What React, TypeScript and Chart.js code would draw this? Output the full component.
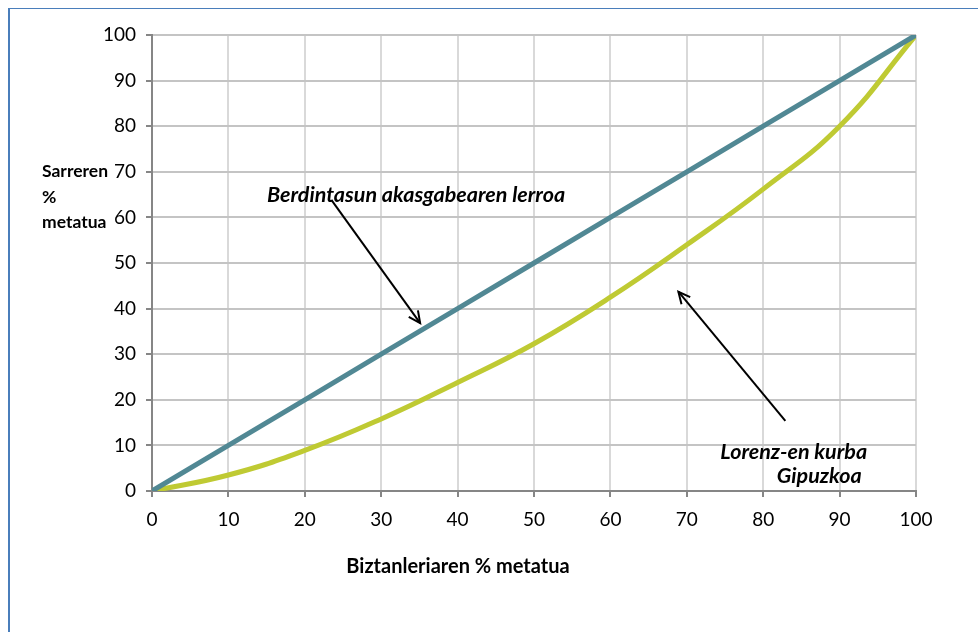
import React, { useEffect, useRef } from "react";
import { Chart, registerables } from "chart.js";

Chart.register(...registerables);

const populationShare = [0, 10, 20, 30, 40, 50, 60, 70, 80, 90, 100];
const equalityLine = [0, 10, 20, 30, 40, 50, 60, 70, 80, 90, 100];
const lorenzGipuzkoa = [0, 3.5, 8.9, 15.8, 23.8, 32.3, 42.5, 54, 66.2, 80, 100];

const yAxisTitle = ["Sarreren", "%", "metatua"];
const xAxisTitle = "Biztanleriaren % metatua";
const equalityLabel = "Berdintasun akasgabearen lerroa";
const lorenzLabel = ["Lorenz-en kurba", "Gipuzkoa"];

const FONT = "Lato, 'Open Sans', sans-serif";

function drawArrow(ctx: CanvasRenderingContext2D, x1: number, y1: number, x2: number, y2: number) {
  ctx.beginPath();
  ctx.moveTo(x1, y1);
  ctx.lineTo(x2, y2);
  ctx.stroke();
  const ang = Math.atan2(y2 - y1, x2 - x1);
  const len = 13;
  const spread = 0.45;
  ctx.beginPath();
  ctx.moveTo(x2 - len * Math.cos(ang - spread), y2 - len * Math.sin(ang - spread));
  ctx.lineTo(x2, y2);
  ctx.lineTo(x2 - len * Math.cos(ang + spread), y2 - len * Math.sin(ang + spread));
  ctx.stroke();
}

const annotationPlugin = {
  id: "lorenzAnnotations",
  afterDraw(chart: any) {
    const { ctx, chartArea, scales } = chart;
    const xs = scales.x;
    const ys = scales.y;
    const px = (v: number) => xs.getPixelForValue(v);
    const py = (v: number) => ys.getPixelForValue(v);
    ctx.save();
    ctx.fillStyle = "#000";
    ctx.strokeStyle = "#000";
    ctx.lineWidth = 2;
    ctx.lineCap = "butt";

    // arrows
    drawArrow(ctx, px(23.5), py(63.8), px(35.1), py(36.8));
    drawArrow(ctx, px(82.9), py(15.4), px(68.9), py(43.7));

    // annotation texts
    ctx.font = `italic bold 21.5px ${FONT}`;
    ctx.textBaseline = "middle";
    ctx.textAlign = "left";
    ctx.fillText(equalityLabel, px(15.05), py(64.9));
    ctx.textAlign = "right";
    ctx.fillText(lorenzLabel[0], px(93.6), py(8.55));
    ctx.fillText(lorenzLabel[1], px(92.9), py(3.3));

    // y axis title
    ctx.font = `bold 17.5px ${FONT}`;
    ctx.textAlign = "left";
    const yPos = [70.2, 64.5, 59];
    yAxisTitle.forEach((t, i) => ctx.fillText(t, chartArea.left - 110, py(yPos[i])));

    // x axis title
    ctx.font = `bold 20px ${FONT}`;
    ctx.textAlign = "center";
    ctx.fillText(xAxisTitle, chartArea.left + 306, chartArea.bottom + 76);
    ctx.restore();
  },
};

export default function App() {
  const ref = useRef<HTMLCanvasElement | null>(null);
  useEffect(() => {
    if (!ref.current) return;
    const chart = new Chart(ref.current, {
      type: "line",
      data: {
        datasets: [
          {
            label: "Berdintasun",
            data: populationShare.map((x, i) => ({ x, y: equalityLine[i] })),
            borderColor: "#518894",
            borderWidth: 5,
            pointRadius: 0,
            tension: 0,
            order: 0,
            borderCapStyle: "round",
          },
          {
            label: "Lorenz",
            data: populationShare.map((x, i) => ({ x, y: lorenzGipuzkoa[i] })),
            borderColor: "#BFCA33",
            borderWidth: 5,
            pointRadius: 0,
            tension: 0.45,
            order: 1,
            borderCapStyle: "round",
          },
        ],
      },
      options: {
        animation: false,
        responsive: true,
        maintainAspectRatio: false,
        layout: { padding: { left: 0, top: 27, right: 54, bottom: 33 } },
        plugins: { legend: { display: false }, tooltip: { enabled: false }, title: { display: false } },
        scales: {
          x: {
            type: "linear",
            min: 0,
            max: 100,
            ticks: { stepSize: 10, color: "#000", font: { family: FONT, size: 19 }, padding: 11, maxRotation: 0 },
            grid: { color: "#D9D9D9", lineWidth: 2, tickLength: 6, tickColor: "#868686", tickWidth: 2 },
            border: { color: "#868686", width: 2 },
            afterFit: (s: any) => {
              s.height = 100;
            },
          },
          y: {
            type: "linear",
            min: 0,
            max: 100,
            ticks: { stepSize: 10, color: "#000", font: { family: FONT, size: 19 }, padding: 10 },
            grid: { color: "#C4C4C4", lineWidth: 2, tickLength: 6, tickColor: "#868686", tickWidth: 2 },
            border: { color: "#868686", width: 2 },
            afterFit: (s: any) => {
              s.width = 144;
            },
          },
        },
      },
      plugins: [annotationPlugin],
    } as any);
    return () => chart.destroy();
  }, []);

  return (
    <>
      <div style={{ position: "relative", width: 962, height: 616 }}>
        <canvas ref={ref} />
      </div>
      <div
        style={{
          position: "fixed",
          left: 8,
          top: 8,
          width: 970,
          height: 624,
          borderLeft: "2px solid #4A7EBB",
          borderTop: "1px solid #4A7EBB",
          boxSizing: "border-box",
          pointerEvents: "none",
        }}
      />
    </>
  );
}
